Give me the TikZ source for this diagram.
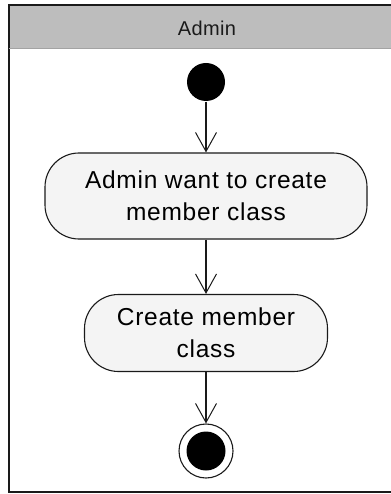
\documentclass[tikz,border=0pt]{standalone}
\usepackage{fontspec}
\setmainfont{Liberation Sans}
\usepackage{tikz}
\usetikzlibrary{arrows.meta,positioning}
\definecolor{LaneGray}{HTML}{BDBDBD}
\definecolor{ActFill}{HTML}{F4F4F4}
\definecolor{InkDark}{HTML}{1A1A1A}

\begin{document}
\begin{tikzpicture}[x=1pt, y=-1pt, line width=1.1pt, draw=InkDark,
  act/.style={rectangle, rounded corners=34pt, draw=InkDark, fill=ActFill, align=center, inner sep=0pt,
    font=\fontsize{24.5}{32}\selectfont\addfontfeatures{LetterSpace=3}},
  flow/.style={-{Straight Barb[length=19pt, width=21pt, line width=1pt]}, InkDark, line width=1.1pt},
  lab/.style={font=\fontsize{20}{24}\selectfont\addfontfeatures{LetterSpace=2}, text=InkDark}]
\useasboundingbox (0,0) rectangle (390,494);
% swimlane
\fill[LaneGray] (9,5) rectangle (392,48);
\draw[InkDark] (392,5) -- (9,5) -- (9,492) -- (392,492);
\draw[InkDark!40, line width=0.6pt] (9,48) -- (392,48);
\node[lab] (lane) at (207,28) {Admin};
% activity nodes
\node[circle, fill=black, minimum size=38pt, inner sep=0pt] (start) at (206,82) {};
\node[act, minimum width=322pt, minimum height=86pt] (want) at (206,196) {Admin want to create\\member class};
\node[act, minimum width=243pt, minimum height=77pt] (create) at (206,333) {Create member\\class};
\node[circle, draw=InkDark, fill=white, minimum size=54pt, inner sep=0pt] (stop) at (206,451) {};
\node[circle, fill=black, minimum size=39pt, inner sep=0pt] (stopin) at (stop) {};
\draw[flow] (start) -- (want);
\draw[flow] (want) -- (create);
\draw[flow] (create) -- (stop);
\end{tikzpicture}
\end{document}
